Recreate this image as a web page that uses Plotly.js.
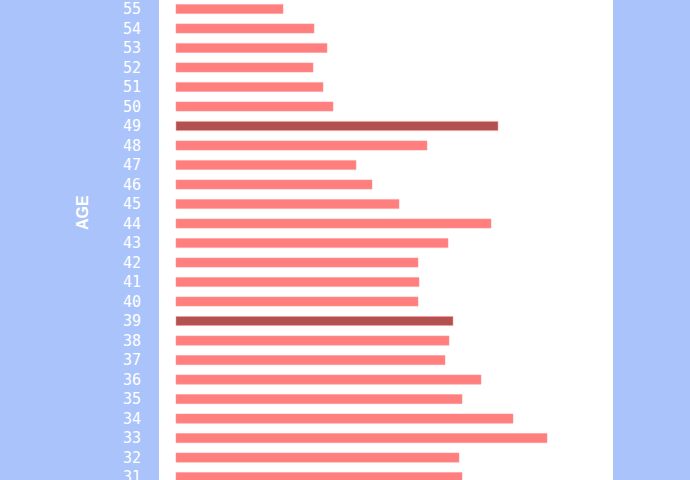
<!DOCTYPE html>
<html>
<head>
<meta charset="utf-8">
<script src="https://cdn.plot.ly/plotly-3.0.1.min.js"></script>
<style>html,body{margin:0;padding:0;background:#aac4fb;overflow:hidden}</style>
</head>
<body>
<div id="chart" style="width:690px;height:480px"></div>
<script>
const ages = ["31","32","33","34","35","36","37","38","39","40","41","42","43","44","45","46","47","48","49","50","51","52","53","54","55"];
const counts = [57.2,56.6,74.2,67.4,57.2,61,53.8,54.6,55.4,48.4,48.6,48.4,54.4,63,44.6,39.2,36,50.2,64.4,31.4,29.4,27.4,30.2,27.6,21.4];
const highlighted = ["39","49"];
const axisTitle = "AGE";

const normalColor = "#ff7f7f";
const darkColor = "#b35151";
const colors = ages.map(a => highlighted.includes(a) ? darkColor : normalColor);

const trace = {
  type: "bar",
  orientation: "h",
  y: ages,
  x: counts,
  marker: {color: colors, line: {color: "rgba(255,150,150,0.55)", width: 1}},
  hoverinfo: "x+y"
};

const layout = {
  width: 690,
  height: 480,
  paper_bgcolor: "#aac4fb",
  plot_bgcolor: "#ffffff",
  margin: {l: 159, r: 77, t: 0, b: 0, pad: 0},
  bargap: 0.53,
  showlegend: false,
  xaxis: {
    range: [-3.4, 87.4],
    showgrid: false, zeroline: false, showticklabels: false, showline: false, ticks: ""
  },
  yaxis: {
    type: "category",
    categoryorder: "array",
    categoryarray: ages,
    range: [-0.15, 24.46],
    showgrid: false, zeroline: false, showline: false, ticks: "",
    ticklabelstandoff: 17,
    tickfont: {family: "DejaVu Sans Mono, monospace", size: 15, color: "#ffffff"}
  },
  annotations: [{
    text: axisTitle,
    xref: "paper", yref: "paper",
    x: -0.1696, y: 0.556,
    xanchor: "center", yanchor: "middle",
    textangle: -90, showarrow: false,
    font: {family: "Liberation Sans, Arial, sans-serif", size: 16, color: "#ffffff", weight: "bold"}
  }]
};

Plotly.newPlot("chart", [trace], layout, {displayModeBar: false, staticPlot: true});
</script>
</body>
</html>
